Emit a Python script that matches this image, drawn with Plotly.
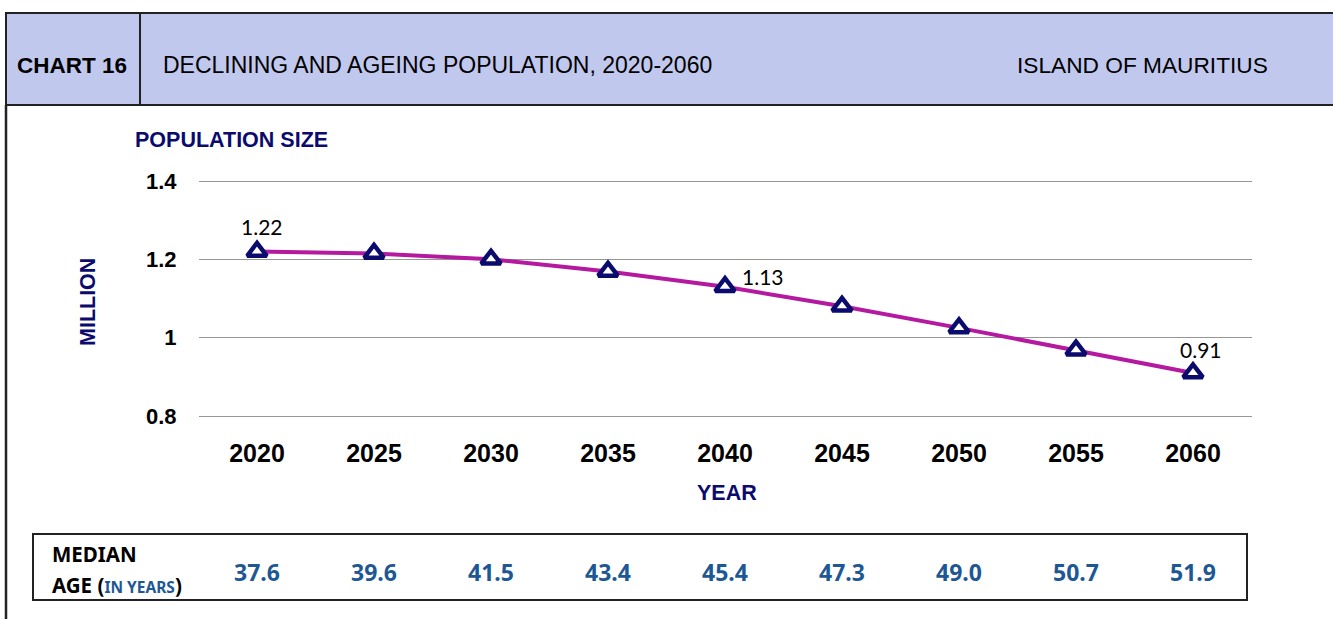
import plotly.graph_objects as go

# chart data
years = ["2020", "2025", "2030", "2035", "2040", "2045", "2050", "2055", "2060"]
population = [1.220, 1.215, 1.200, 1.169, 1.130, 1.080, 1.025, 0.968, 0.910]
shown_labels = {"2020": "1.22", "2040": "1.13", "2060": "0.91"}
median_age = ["37.6", "39.6", "41.5", "43.4", "45.4", "47.3", "49.0", "50.7", "51.9"]
y_ticks = [0.8, 1.0, 1.2, 1.4]
y_tick_text = ["0.8", "1", "1.2", "1.4"]

W, H = 1333, 619
NAVY = "#0B0B6E"
BLUE = "#1D5894"
ARIAL = "Liberation Sans, Arial, sans-serif"
CALIBRI = "Lato, Noto Sans, sans-serif"
CALIBRI_BOLD = "Noto Sans, Lato, sans-serif"

# plotly drops gridlines within 1px of the plot edge, so pad the plot 2px each way
EDGE = 2
PAD = EDGE * 0.6 / 235


def px(x):
    return x / W


def py(y):
    return 1 - y / H


def paper_text(x, y, text, size, color="black", family=ARIAL, xanchor="center", **kw):
    fig.add_annotation(x=px(x), y=py(y), xref="paper", yref="paper", text=text,
                       xanchor=xanchor, yanchor="middle", showarrow=False,
                       font=dict(family=family, size=size, color=color), **kw)


fig = go.Figure()

fig.add_trace(go.Scatter(
    x=years, y=population, mode="lines+markers",
    line=dict(color="#B4199F", width=4),
    marker=dict(symbol="triangle-up", size=17, color="white",
                line=dict(color=NAVY, width=4.5)),
    hoverinfo="x+y", showlegend=False,
))

# data labels on selected points (offsets in px)
label_pos = {"2020": (5, 25), "2040": (38, 10), "2060": (8, 23)}
for yr, txt in shown_labels.items():
    i = years.index(yr)
    dx, dy = label_pos[yr]
    fig.add_annotation(x=i, y=population[i], text=txt, showarrow=False,
                       xshift=dx, yshift=dy,
                       font=dict(family=CALIBRI, size=21, color="black"))

# median age row
for i, age in enumerate(median_age):
    fig.add_annotation(x=i, xref="x", y=py(572), yref="paper", yanchor="middle",
                       text="<b>%s</b>" % age, showarrow=False,
                       font=dict(family=CALIBRI_BOLD, size=23, color=BLUE))

paper_text(50, 554, "<b>MEDIAN</b>", 20.5, family=CALIBRI_BOLD, xanchor="left")
paper_text(50, 585, "<b>AGE</b> <b>(<span style='color:%s;font-size:15.5px'>IN YEARS</span>)</b>" % BLUE,
           20.5, family=CALIBRI_BOLD, xanchor="left")

# header texts
paper_text(72, 65, "<b>CHART 16</b>", 22.5)
paper_text(161, 65, "DECLINING AND AGEING POPULATION, 2020-2060", 23, xanchor="left")
paper_text(1015, 65, "ISLAND OF MAURITIUS", 22.7, xanchor="left")

# axis titles
paper_text(133, 140, "<b>POPULATION SIZE</b>", 21.5, color=NAVY, xanchor="left")
paper_text(88, 302, "<b>MILLION</b>", 21.5, color=NAVY, textangle=-90)
paper_text(727, 493, "<b>YEAR</b>", 21.5, color=NAVY)

# frames
shapes = [
    dict(type="rect", x0=px(6), x1=px(1345), y0=py(13), y1=py(105),
         fillcolor="#C1C8EE", line=dict(color="#222", width=2), layer="below"),
    dict(type="line", x0=px(140), x1=px(140), y0=py(13), y1=py(105),
         line=dict(color="#222", width=2)),
    dict(type="line", x0=px(6), x1=px(6), y0=py(105), y1=py(625),
         line=dict(color="#222", width=2.5)),
    dict(type="rect", x0=px(33), x1=px(1247), y0=py(534), y1=py(600),
         line=dict(color="#222", width=2)),
]
for s in shapes:
    s.update(xref="paper", yref="paper")

fig.update_layout(
    width=W, height=H,
    margin=dict(l=0, r=0, t=0, b=0, autoexpand=False),
    paper_bgcolor="white", plot_bgcolor="white",
    shapes=shapes,
    xaxis=dict(domain=[px(198.5), px(1251.5)], type="category", range=[-0.5, 8.5],
               automargin=False, showgrid=False, showline=False, zeroline=False, ticks="",
               tickfont=dict(family=ARIAL, size=25, color="black"),
               ticklabelstandoff=20 - EDGE, tickprefix="<b>", ticksuffix="</b>"),
    yaxis=dict(domain=[py(416 + EDGE), py(181 - EDGE)], range=[0.8 - PAD, 1.4 + PAD],
               automargin=False,
               tickvals=y_ticks, ticktext=["<b>%s</b>" % t for t in y_tick_text],
               showgrid=True, gridcolor="#969696", gridwidth=1.4, zeroline=False,
               showline=False, ticks="", ticklabelstandoff=21,
               tickfont=dict(family=ARIAL, size=22, color="black")),
)

# page body has a default margin; drop it so the figure sits at the window origin
fig.write_html("out.html", config={"displayModeBar": False},
               post_script="document.body.style.margin='0';")
